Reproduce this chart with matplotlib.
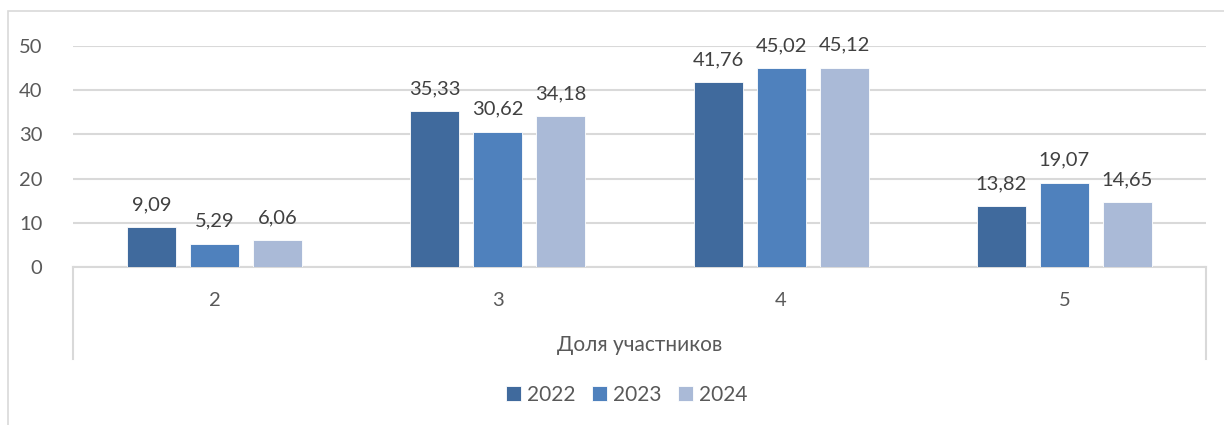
import numpy as np
import matplotlib
matplotlib.use("Agg")
import matplotlib.pyplot as plt
from matplotlib.patches import Rectangle

plt.rcParams['font.family'] = ['Lato', 'DejaVu Sans']

# Data
categories = ["2", "3", "4", "5"]
years = ["2022", "2023", "2024"]
values_2022 = [9.09, 35.33, 41.76, 13.82]
values_2023 = [5.29, 30.62, 45.02, 19.07]
values_2024 = [6.06, 34.18, 45.12, 14.65]
colors = ["#406A9D", "#4F81BD", "#AABAD7"]
axis_title = "Доля участников"

W, H = 1224, 425
fig = plt.figure(figsize=(W / 100, H / 100), dpi=100)

# Outer chart frame (right and bottom edges run off the picture)
fig.patches.append(Rectangle((8 / W, -0.1), 1.2, (H - 11) / H + 0.1,
                             transform=fig.transFigure, fill=False,
                             edgecolor="#D9D9D9", linewidth=1.2))

left, right, top, bottom = 73, 1206, 46, 267
ax = fig.add_axes([left / W, (H - bottom) / H, (right - left) / W, (bottom - top) / H])

x = np.arange(len(categories))
width = 0.173
step = 0.222
series = [values_2022, values_2023, values_2024]
for i, (vals, year, col) in enumerate(zip(series, years, colors)):
    pos = x + (i - 1) * step
    ax.bar(pos, vals, width, color=col, label=year, zorder=3,
           edgecolor="white", linewidth=0.6)
    for px, v in zip(pos, vals):
        ax.annotate(f"{v:.2f}".replace(".", ","), (px, v), xytext=(0, 10),
                    textcoords="offset points", ha="center", va="bottom",
                    fontsize=14.5, color="#404040")

ax.set_xlim(-0.5, len(categories) - 0.5)
ax.set_ylim(0, 50)
ax.set_yticks(range(0, 51, 10))
ax.yaxis.grid(True, color="#D9D9D9", linewidth=1.5, zorder=0)
ax.set_axisbelow(True)
for s in ["top", "right", "left"]:
    ax.spines[s].set_visible(False)
ax.spines["bottom"].set_color("#D9D9D9")
ax.spines["bottom"].set_linewidth(1.5)
ax.set_xticks(x)
ax.set_xticklabels(categories)
ax.tick_params(axis="both", length=0, labelsize=14.5, labelcolor="#595959")
ax.tick_params(axis="x", pad=18)
ax.tick_params(axis="y", pad=22)

# Category group separators below the axis
depth = (359 - bottom) / (bottom - top)
for xe in [0, 1]:
    ax.plot([xe, xe], [0, -depth], transform=ax.transAxes, clip_on=False,
            color="#D9D9D9", linewidth=1.5)

fig.text((left + right) / 2 / W, 1 - 345 / H, axis_title, ha="center", va="center",
         fontsize=15, color="#595959")

handles, labels = ax.get_legend_handles_labels()
fig.legend(handles, labels, loc="center", bbox_to_anchor=(627 / W, 1 - 395 / H),
           ncol=3, frameon=False, fontsize=15, labelcolor="#595959",
           handlelength=0.7, handleheight=0.7, handletextpad=0.3, columnspacing=0.8)

fig.savefig("out.png", dpi=100, facecolor="white")
